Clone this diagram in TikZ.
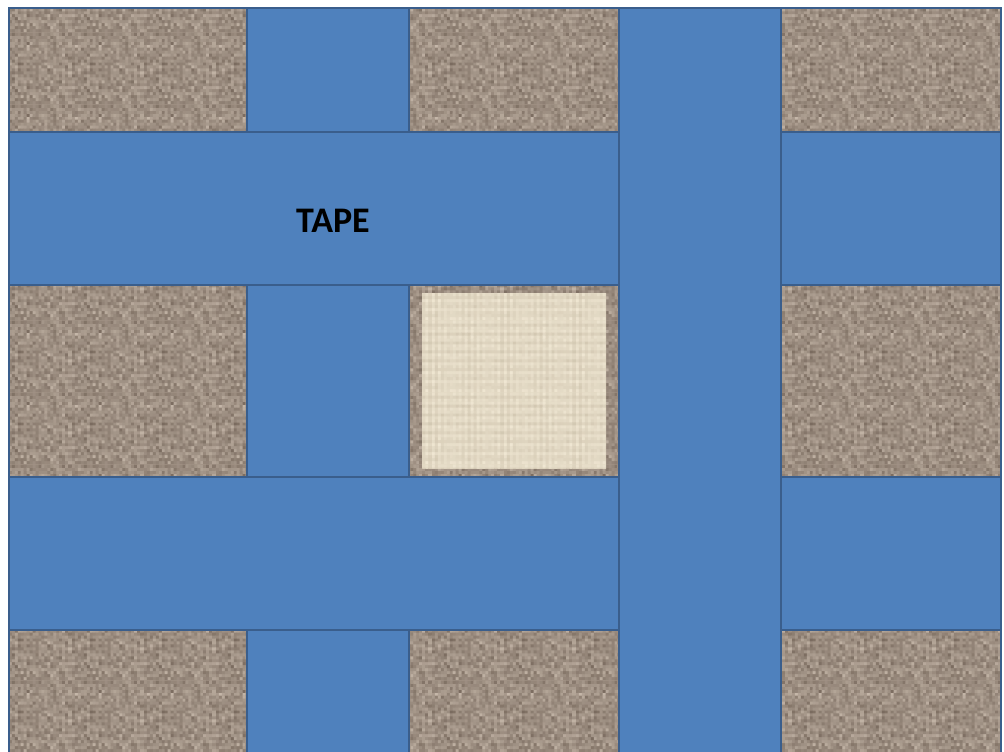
\documentclass[tikz,border=0pt]{standalone}
\usepackage{fontspec}
\setmainfont{Carlito}
\usetikzlibrary{patterns}
\definecolor{bandfill}{HTML}{4F81BD}
\definecolor{banddraw}{HTML}{3A5E8C}
\definecolor{noiselight}{HTML}{C8BAAC}
\definecolor{noisedark}{HTML}{75665A}
\definecolor{noisebase}{HTML}{A29386}
\definecolor{linenlight}{HTML}{F0E7D3}
\definecolor{linendark}{HTML}{CFC4AE}
\definecolor{linenbase}{HTML}{E3D9C3}

\pgfdeclarepatterninherentlycolored{brownnoise}
{\pgfpointorigin}{\pgfpoint{72pt}{72pt}}{\pgfpoint{72pt}{72pt}}
{
  \pgfmathsetseed{11}
  \foreach \i in {0,...,23}{
    \foreach \j in {0,...,23}{
      \pgfmathsetmacro\r{int(min(100,max(0,(rnd+rnd+rnd)*33.3)))}
      \pgfsetfillcolor{noiselight!\r!noisedark}
      \pgfpathrectangle{\pgfpoint{\i*3pt}{\j*3pt}}{\pgfpoint{3.4pt}{3.4pt}}
      \pgfusepath{fill}
    }
  }
}

\pgfdeclarepatterninherentlycolored{linen}
{\pgfpointorigin}{\pgfpoint{72pt}{72pt}}{\pgfpoint{72pt}{72pt}}
{
  \pgfmathsetseed{5}
  \foreach \i in {0,...,23}{
    \foreach \j in {0,...,23}{
      \pgfmathsetmacro\r{int(min(100,max(0,100-(25*rnd+35*abs(sin(\i*97.3))^3+35*abs(sin(\j*61.7))^3))))}
      \pgfsetfillcolor{linenlight!\r!linendark}
      \pgfpathrectangle{\pgfpoint{\i*3pt}{\j*3pt}}{\pgfpoint{3.4pt}{3.4pt}}
      \pgfusepath{fill}
    }
  }
}

\tikzset{
  band/.style={fill=bandfill, draw=banddraw, line width=2pt},
  edge/.style={draw=banddraw, line width=2pt},
  label/.style={font=\fontsize{36}{40}\selectfont\bfseries, text=black, inner sep=0pt}
}

\begin{document}
\begin{tikzpicture}[x=1pt, y=-1pt]
  \useasboundingbox (0,0) rectangle (1004,752);
  \clip (0,0) rectangle (1004,752);
  % ground (textured)
  \fill[noisebase] (9,8) rectangle (1001,760);
  \fill[pattern=brownnoise] (9,8) rectangle (1001,760);
  % linen square
  \fill[linenbase] (422,293) rectangle (606,468);
  \fill[pattern=linen] (422,293) rectangle (606,468);
  % vertical band (under)
  \draw[band] (247,8) rectangle (409,760);
  % horizontal bands
  \draw[band] (9,132) rectangle (1001,285);
  \draw[band] (9,477) rectangle (1001,630);
  % vertical band (over)
  \draw[band] (619,8) rectangle (781,760);
  % outer edge
  \draw[edge] (9,8) rectangle (1001,760);
  % label
  \node[label] (tape) at (333,221) {TAPE};
\end{tikzpicture}
\end{document}
